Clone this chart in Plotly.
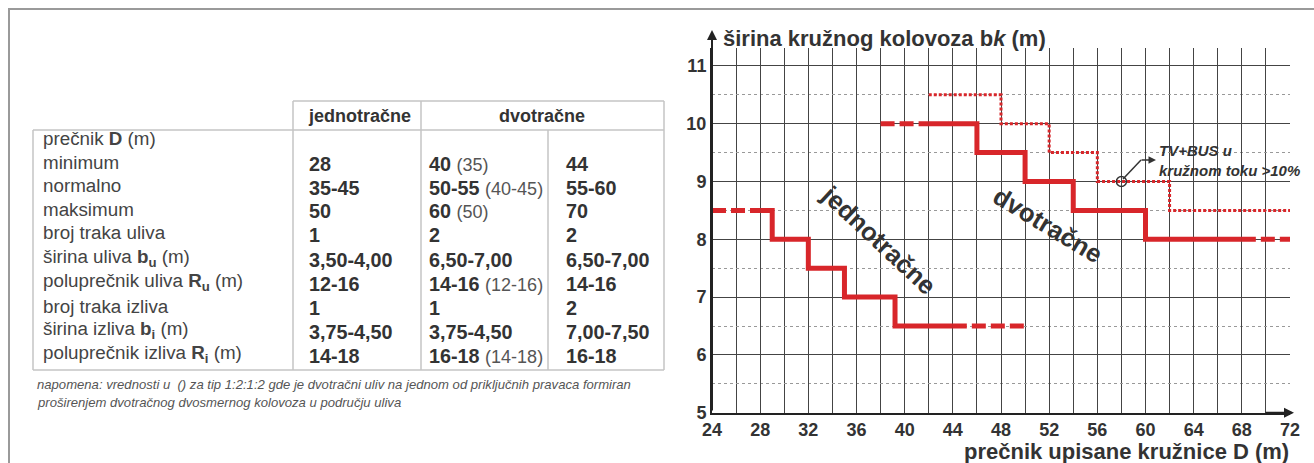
import plotly.graph_objects as go

W, H = 1314, 463

# ---------------- table data ----------------
header_groups = ["jednotračne", "dvotračne"]
row_labels = [
    "prečnik <b>D</b> (m)",
    "minimum",
    "normalno",
    "maksimum",
    "broj traka uliva",
    "širina uliva <b>b<sub>u</sub></b> (m)",
    "poluprečnik uliva <b>R<sub>u</sub></b> (m)",
    "broj traka izliva",
    "širina izliva <b>b<sub>i</sub></b> (m)",
    "poluprečnik izliva <b>R<sub>i</sub></b> (m)",
]
jedno_vals = ["", "28", "35-45", "50", "1", "3,50-4,00", "12-16", "1", "3,75-4,50", "14-18"]
dvo1_main = ["", "40", "50-55", "60", "2", "6,50-7,00", "14-16", "1", "3,75-4,50", "16-18"]
dvo1_alt = ["", "(35)", "(40-45)", "(50)", "", "", "(12-16)", "", "", "(14-18)"]
dvo2_vals = ["", "44", "55-60", "70", "2", "6,50-7,00", "14-16", "2", "7,00-7,50", "16-18"]
note_lines = [
    "napomena: vrednosti u  () za tip 1:2:1:2 gde je dvotračni uliv na jednom od priključnih pravaca formiran",
    "proširenjem dvotračnog dvosmernog kolovoza u području uliva",
]

# ---------------- chart data ----------------
jedno_x = [28, 29, 32, 35, 39.2, 44]
jedno_y = [8.5, 8.0, 7.5, 7.0, 6.5, 6.5]
jedno_left_x, jedno_left_y = [24, 28], [8.5, 8.5]
jedno_right_x, jedno_right_y = [44, 50], [6.5, 6.5]

dvo_x = [42, 46, 50, 54, 60, 68]
dvo_y = [10.0, 9.5, 9.0, 8.5, 8.0, 8.0]
dvo_left_x, dvo_left_y = [38, 42], [10.0, 10.0]
dvo_right_x, dvo_right_y = [68, 72], [8.0, 8.0]

bus_x = [42, 48, 52, 56, 62, 72]
bus_y = [10.5, 10.0, 9.5, 9.0, 8.5, 8.5]
bus_point_x, bus_point_y = [58], [9.0]

x_ticks = [24, 28, 32, 36, 40, 44, 48, 52, 56, 60, 64, 68, 72]
y_ticks = [5, 6, 7, 8, 9, 10, 11]

series_labels = ["jednotračne", "dvotračne"]
bus_label = "TV+BUS u<br>kružnom toku >10%"
y_title = "širina kružnog kolovoza b<i>k</i> (m)"
x_title = "prečnik upisane kružnice D (m)"

RED = "#d8262a"
FONT = "Liberation Sans"


def px(x):
    return x / W


def py(y):
    return 1 - y / H


fig = go.Figure()

# steps
fig.add_trace(go.Scatter(x=jedno_x, y=jedno_y, mode="lines", line_shape="hv",
                         line=dict(color=RED, width=5), hoverinfo="skip"))
for xs, ys in [(jedno_left_x, jedno_left_y), (jedno_right_x, jedno_right_y),
               (dvo_left_x, dvo_left_y), (dvo_right_x, dvo_right_y)]:
    fig.add_trace(go.Scatter(x=xs, y=ys, mode="lines",
                             line=dict(color=RED, width=5, dash="14px,5px"), hoverinfo="skip"))
fig.add_trace(go.Scatter(x=dvo_x, y=dvo_y, mode="lines", line_shape="hv",
                         line=dict(color=RED, width=5), hoverinfo="skip"))
fig.add_trace(go.Scatter(x=bus_x, y=bus_y, mode="lines", line_shape="hv",
                         line=dict(color=RED, width=3, dash="3px,2px"), hoverinfo="skip"))
fig.add_trace(go.Scatter(x=bus_point_x, y=bus_point_y, mode="markers",
                         marker=dict(symbol="circle-open", size=10, color="#333",
                                     line=dict(width=1.5, color="#333")), hoverinfo="skip"))

ann = []
shapes = []


def text_at(text, x, y, size, color="#333", xanchor="left", angle=0, align="left"):
    ann.append(dict(text=text, x=px(x), y=py(y), xref="paper", yref="paper",
                    xanchor=xanchor, yanchor="middle", align=align, textangle=angle,
                    showarrow=False, font=dict(family=FONT, size=size, color=color)))


# ---- table lines ----
LC = "#c4c4c4"
def hline(x0, x1, y, color=LC, w=1.5):
    shapes.append(dict(type="line", xref="paper", yref="paper", x0=px(x0), x1=px(x1),
                       y0=py(y), y1=py(y), line=dict(color=color, width=w)))

def vline(x, y0, y1, color=LC, w=1.5):
    shapes.append(dict(type="line", xref="paper", yref="paper", x0=px(x), x1=px(x),
                       y0=py(y0), y1=py(y1), line=dict(color=color, width=w)))

# outer frame
hline(8, W, 9, color="#9a9a9a", w=2)
vline(9, 9, H, color="#9a9a9a", w=2)
# table box
hline(293, 664, 101)
vline(293, 101, 370)
vline(664, 101, 370)
vline(421, 101, 370)
hline(33, 664, 130)
vline(548, 130, 370)
vline(33, 130, 370)
hline(33, 664, 370)

# header text
text_at("<b>" + header_groups[0] + "</b>", 359, 116, 18, xanchor="center")
text_at("<b>" + header_groups[1] + "</b>", 542, 116, 18, xanchor="center")

row_y = [138, 162, 186, 209, 233, 258, 282, 306, 330, 354]
for i, lab in enumerate(row_labels):
    text_at(lab, 41, row_y[i], 18.8, color="#444")
    if jedno_vals[i]:
        text_at("<b>" + jedno_vals[i] + "</b>", 307, row_y[i] + 2, 19.8)
    if dvo1_main[i]:
        t = "<b>" + dvo1_main[i] + "</b>"
        if dvo1_alt[i]:
            t += " <span style='font-size:18px;color:#555'>" + dvo1_alt[i] + "</span>"
        text_at(t, 427, row_y[i] + 2, 19.8)
    if dvo2_vals[i]:
        text_at("<b>" + dvo2_vals[i] + "</b>", 564, row_y[i] + 2, 19.8)

for j, line in enumerate(note_lines):
    text_at("<i>" + line + "</i>", 35, 384 + 18 * j, 13.1, color="#555")

# ---- chart annotations ----
# y axis arrow
ann.append(dict(text="", x=px(712), y=py(30), xref="paper", yref="paper", ax=0, ay=382,
                showarrow=True, arrowhead=2, arrowsize=1,
                arrowwidth=2, arrowcolor="#222", standoff=0))
# x axis arrow
ann.append(dict(text="", x=px(1294), y=py(412.7), xref="paper", yref="paper", ax=-30, ay=0,
                showarrow=True, arrowhead=2, arrowsize=1, arrowwidth=2, arrowcolor="#222"))

text_at("<b>" + y_title + "</b>", 721, 38, 22)
text_at("<b>" + x_title + "</b>", 1291, 451, 22, xanchor="right")

text_at("<b>" + series_labels[0] + "</b>", 879, 240, 25.5, xanchor="center", angle=43)
text_at("<b>" + series_labels[1] + "</b>", 1048, 225, 25.5, xanchor="center", angle=31)

text_at("<b><i>" + bus_label + "</i></b>", 1157, 160, 15)
# bent pointer from circle to label
shapes.append(dict(type="line", xref="paper", yref="paper", x0=px(1123), y0=py(179), x1=px(1141), y1=py(160),
                   line=dict(color="#333", width=1.5)))
ann.append(dict(text="", x=px(1156), y=py(160), xref="paper", yref="paper", ax=-16, ay=0,
                showarrow=True, arrowhead=2, arrowsize=1, arrowwidth=1.5, arrowcolor="#333"))

tickfont = dict(family=FONT, size=18, color="#333", weight="bold")

fig.update_layout(
    template="none",
    width=W, height=H, autosize=False,
    margin=dict(l=0, r=0, t=0, b=0, pad=0),
    paper_bgcolor="white", plot_bgcolor="white",
    showlegend=False,
    annotations=ann, shapes=shapes,
    xaxis=dict(domain=[px(712), px(1290)], range=[24, 72], tickvals=x_ticks, automargin=False,
               showgrid=True, gridcolor="#444", gridwidth=1,
               minor=dict(tick0=24, dtick=2, showgrid=True, gridcolor="#444", gridwidth=1),
               showline=True, linecolor="#222", linewidth=2, zeroline=False,
               ticks="", tickfont=tickfont, fixedrange=True),
    yaxis=dict(domain=[py(412.7), py(48)], range=[5, 11.31], tickvals=y_ticks, automargin=False,
               showgrid=True, gridcolor="#444", gridwidth=1,
               minor=dict(tick0=5, dtick=0.5, showgrid=True, gridcolor="#999", gridwidth=1, griddash="dot"),
               showline=True, linecolor="#222", linewidth=2, zeroline=False,
               ticks="", tickfont=tickfont, fixedrange=True),
)

fig.write_html("out.html", config={"displayModeBar": False},
               post_script="document.body.style.margin='0';document.body.style.overflow='hidden';")
